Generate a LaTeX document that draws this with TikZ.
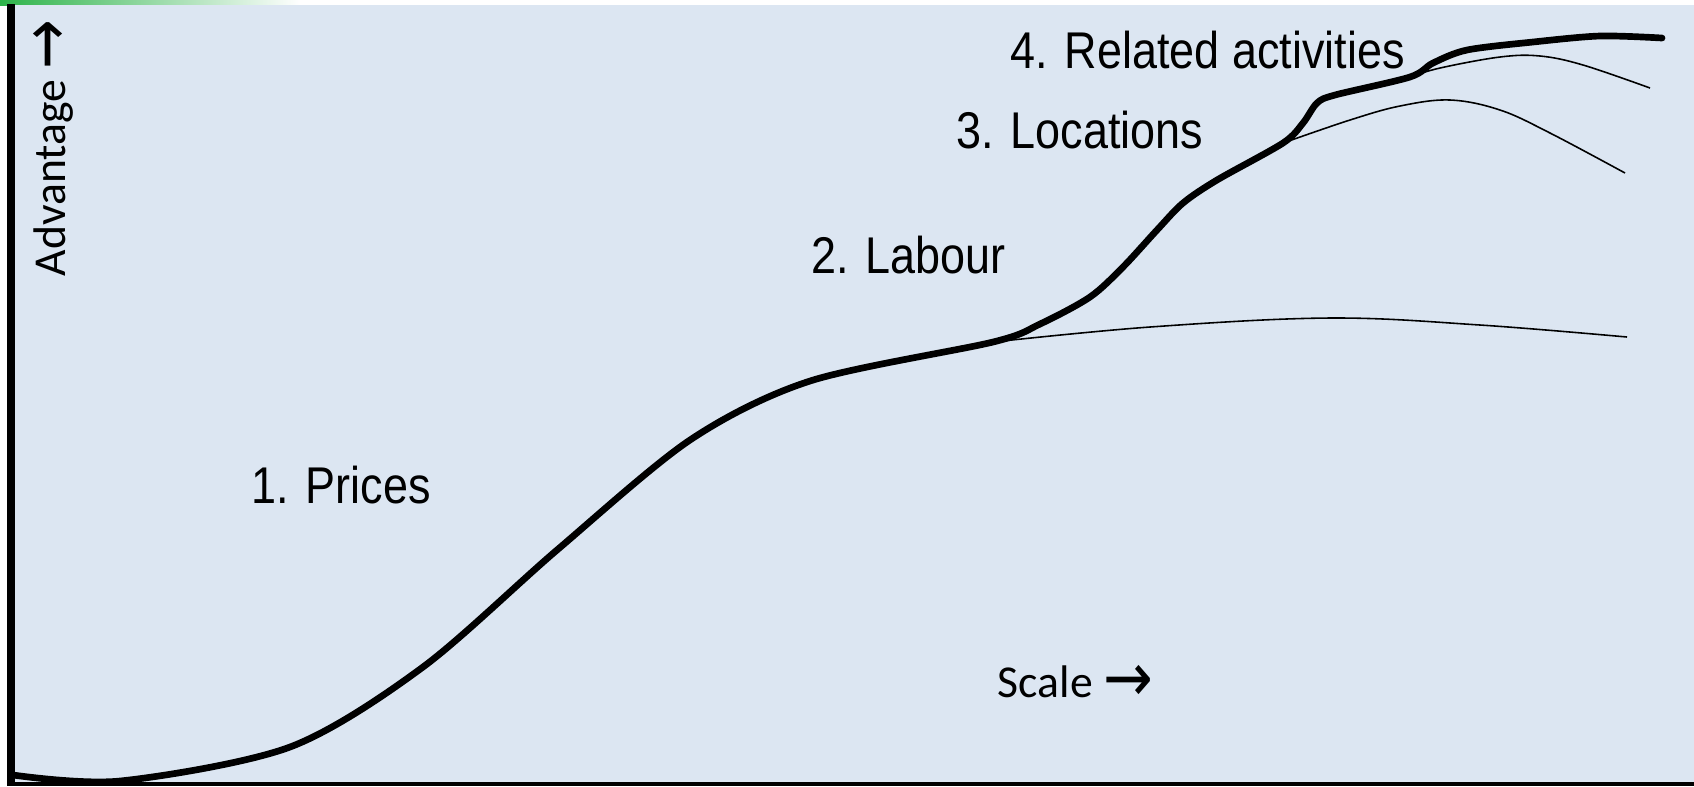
\documentclass[tikz,border=0pt]{standalone}
\usepackage{fontspec}
\newfontfamily\labelfont{Liberation Sans}[FakeStretch=0.87]
\newfontfamily\axisfont{Carlito}
\newfontfamily\arrowfont{DejaVu Sans}
\newcommand{\axisarrow}{{\arrowfont\raisebox{-1.2pt}{\scalebox{1.3}[1.5]{→}}}}
\definecolor{panel}{HTML}{DCE6F2}
\definecolor{slidegreen}{HTML}{2DB34A}

\begin{document}
\begin{tikzpicture}[x=0.1mm,y=-0.1mm]
	\tikzstyle{stage} = [inner sep=0pt,anchor=base west,font=\labelfont\fontsize{14.7}{17}\selectfont];
	\tikzstyle{axis} = [inner sep=0pt,anchor=base west,font=\axisfont\fontsize{13}{15}\selectfont];
	\tikzstyle{main} = [line width=1.9pt,line join=round,line cap=round];
	\tikzstyle{branch} = [line width=0.45pt];
	\useasboundingbox (0,0) rectangle (1694,786);
	\shade[left color=slidegreen,right color=white] (0,0) rectangle (300,5);
	\fill[panel] (15,5) rectangle (1694,782);
	\draw[line width=2.3pt] (11,4) -- (11,786);
	\draw[line width=1.4pt] (7,784) -- (1694,784);
	\coordinate (fork2) at (993,342);
	\coordinate (fork3) at (1283,143);
	\coordinate (fork4) at (1410,77);
	\draw[branch] plot[smooth,tension=0.6] coordinates {(fork2) (1150,327) (1330,318) (1480,325) (1627,337)};
	\draw[branch] plot[smooth,tension=0.6] coordinates {(fork3) (1350,120) (1400,106) (1450,100) (1500,110) (1550,133) (1625,173)};
	\draw[branch] plot[smooth,tension=0.6] coordinates {(fork4) (1440,68) (1500,57) (1540,56) (1583,65) (1650,88)};
	\draw[main] plot[smooth,tension=0.5] coordinates {(13,775) (120,781) (290,747) (423,667) (557,550) (690,440) (810,381) (fork2) (1040,324) (1090,297) (1123,267) (1157,230) (1183,203) (1217,180) (fork3) (1303,123) (1317,103) (1335,95) (fork4) (1433,63) (1467,50) (1533,42) (1600,36) (1662,38)};
	\node[stage] (prices) at (251,503) {1. Prices};
	\node[stage] (labour) at (811,273) {2. Labour};
	\node[stage] (locations) at (956,148) {3. Locations};
	\node[stage] (related) at (1010,68) {4. Related activities};
	\node[axis] (scale) at (997,697) {Scale \axisarrow};
	\node[axis,rotate=90] (advantage) at (65,277) {Advantage \axisarrow};
\end{tikzpicture}
\end{document}
